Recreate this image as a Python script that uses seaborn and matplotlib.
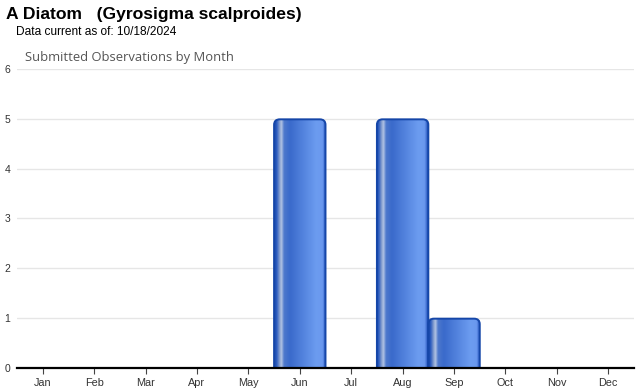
import matplotlib
matplotlib.use('Agg')
import matplotlib.pyplot as plt
import seaborn as sns
import numpy as np
from matplotlib.colors import LinearSegmentedColormap
from matplotlib.patches import FancyBboxPatch

# Данные
months = ['Jan', 'Feb', 'Mar', 'Apr', 'May', 'Jun',
          'Jul', 'Aug', 'Sep', 'Oct', 'Nov', 'Dec']
counts = [0, 0, 0, 0, 0, 5, 0, 5, 1, 0, 0, 0]
y_ticks = [0, 1, 2, 3, 4, 5, 6]

title = 'A Diatom   (Gyrosigma scalproides)'
subtitle = 'Data current as of: 10/18/2024'
chart_title = 'Submitted Observations by Month'

sns.set_style('white')
plt.rcParams['font.family'] = ['Liberation Sans', 'DejaVu Sans']

fig = plt.figure(figsize=(6.4, 3.9), dpi=100)
ax = fig.add_axes([17 / 640, 22 / 390, 617 / 640, 299 / 390])

sns.barplot(x=months, y=counts, ax=ax, width=1.02, color='#3f70d0')

ax.set_ylim(0, 6)
ax.set_xlim(-0.5, 11.5)
ax.set_yticks(y_ticks)
ax.yaxis.grid(True, color='#e6e6e6', linewidth=1)
ax.set_axisbelow(True)
ax.set_xlabel('')
ax.set_ylabel('')

for s in ['top', 'right', 'left']:
    ax.spines[s].set_visible(False)
ax.spines['bottom'].set_color('black')
ax.spines['bottom'].set_linewidth(1.6)
ax.spines['bottom'].set_zorder(5)

ax.tick_params(axis='y', length=0, pad=5, labelsize=7.5, labelcolor='#333333')
ax.tick_params(axis='x', length=4, width=0.8, color='#444444', pad=3,
               labelsize=7.8, labelcolor='#333333', direction='out', bottom=True)

# Градиент "цилиндра" для столбцов
grad = LinearSegmentedColormap.from_list('bar', [
    (0.00, '#1848a8'), (0.05, '#2c5cc0'), (0.10, '#7d98cc'),
    (0.14, '#b2c4e4'), (0.19, '#4d78cc'), (0.30, '#3a6acb'),
    (0.80, '#6c9cf0'), (0.92, '#6a98ee'), (0.97, '#2e5cc4'),
    (1.00, '#1546a8')])
row = np.linspace(0, 1, 256).reshape(1, -1)

for p in list(ax.patches):
    h = p.get_height()
    x0 = p.get_x()
    w = p.get_width()
    p.set_visible(False)
    if h <= 0:
        continue
    box = FancyBboxPatch((x0 + 0.06, -0.4), w - 0.12, h + 0.4 - 0.06,
                         boxstyle='round,pad=0.05,rounding_size=0.11',
                         mutation_aspect=1.0, facecolor='none',
                         edgecolor='#1546a8', linewidth=1.4, zorder=3)
    ax.add_patch(box)
    im = ax.imshow(row, cmap=grad, aspect='auto', extent=(x0, x0 + w, -0.4, h),
                   zorder=2, interpolation='bilinear')
    im.set_clip_path(box)

ax.set_xlim(-0.5, 11.5)
ax.set_ylim(0, 6)

fig.text(6 / 640, 1 - 15 / 390, title, fontsize=12.6, fontweight='bold',
         va='center', ha='left', color='black')
fig.text(16 / 640, 1 - 32 / 390, subtitle, fontsize=8.6, va='center',
         ha='left', color='black')
fig.text(25 / 640, 1 - 58 / 390, chart_title, fontsize=9.4, va='center',
         ha='left', color='#555555', family=['Open Sans', 'DejaVu Sans'])

fig.savefig('out.png', dpi=100)
